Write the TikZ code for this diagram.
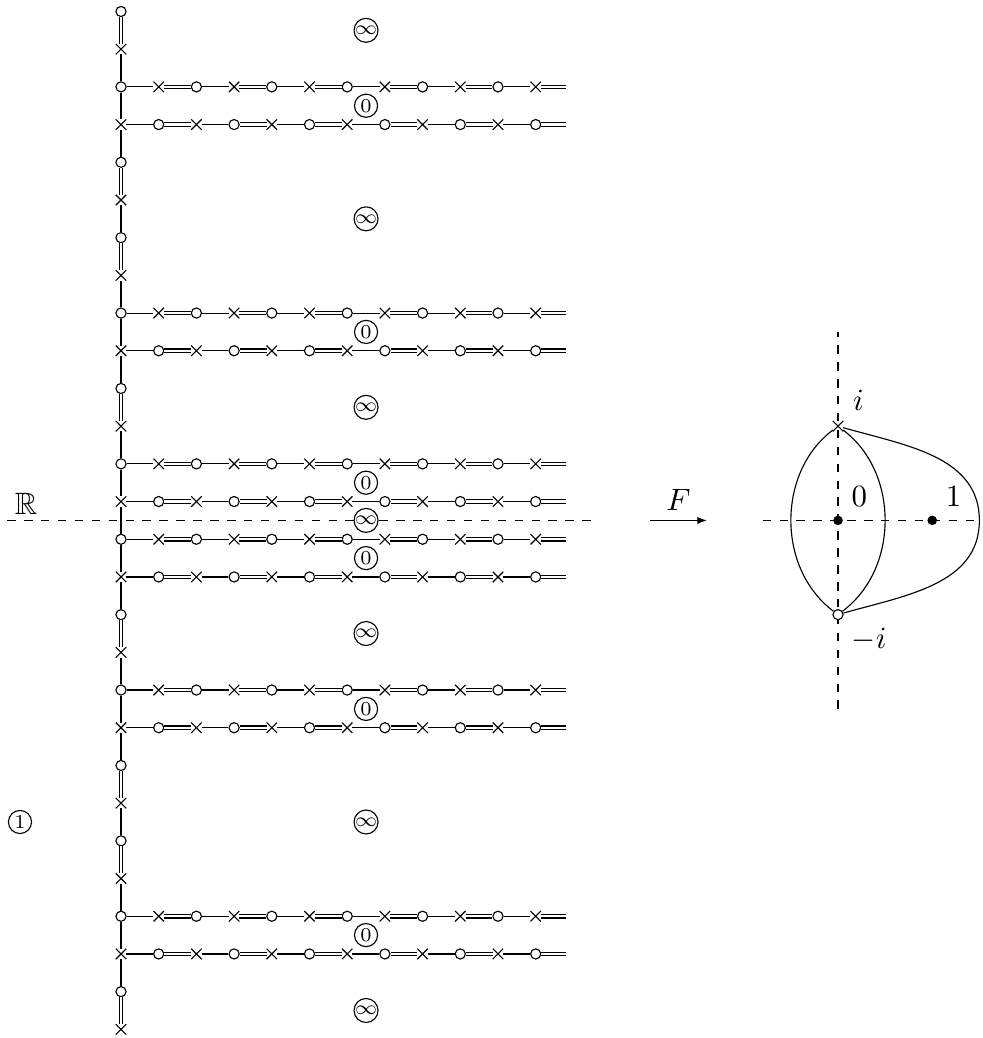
\documentclass[tikz,border=0pt]{standalone}
\usepackage{amssymb}
\usetikzlibrary{arrows.meta,positioning,shapes.misc}

\begin{document}
\begin{tikzpicture}[
    x=0.47cm, y=0.47cm,
    v0/.style={draw, circle, fill=white, inner sep=0pt, minimum size=3.6pt, line width=0.4pt},
    v1/.style={draw, cross out, inner sep=0pt, minimum size=3.3pt, line width=0.4pt},
    e0/.style={line width=0.4pt},
    e1/.style={line width=0.4pt, double, double distance=0.85pt},
    face/.style={draw, circle, fill=white, inner sep=0pt, minimum size=8.2pt, font=\scriptsize},
    lbl/.style={font=\fontsize{10.95}{13.6}\selectfont},
    guide/.style={dashed, line width=0.4pt},
    bullet/.style={circle, fill, inner sep=0pt, minimum size=3.4pt},
    arr/.style={-{Latex[length=3.4pt, width=2.6pt]}, line width=0.4pt},
]
    \useasboundingbox (-3.21,0.305) rectangle (22.84,-27.23);

    % Real line
    \coordinate (Rw) at (-3.02,-13.5);
    \coordinate (Re) at (12.52,-13.5);
    \draw [guide] (Rw) -- (Re);
    \node [lbl] (reals) at (-2.52,-13.05) {$\mathbb{R}$};

    % Vertical chain
    \foreach \a in {0,...,27} {
        \pgfmathtruncatemacro{\p}{mod(\a,2)}
        \node [v\p] (v\a) at (0,-\a) {};
    }
    \foreach \a [evaluate=\a as \b using int(\a+1)] in {0,4,6,10,16,20,22,26}
        \draw [e1] (v\a) -- (v\b);
    \foreach \a [evaluate=\a as \b using int(\a+1)] in {1,2,3,5,7,8,9,11,12,13,14,15,17,18,19,21,23,24,25}
        \draw [e0] (v\a) -- (v\b);

    % Horizontal rows
    \foreach \r in {2,3,8,9,12,13,14,15,18,19,24,25} {
        \foreach \j in {1,...,11} {
            \pgfmathtruncatemacro{\p}{mod(\r+\j,2)}
            \node [v\p] (h\r-\j) at (\j,-\r) {};
        }
        \coordinate (t\r) at (11.8,-\r);
        \draw [e0] (v\r) -- (h\r-1);
        \foreach \j [remember=\j as \prev (initially 1)] in {2,...,11} {
            \pgfmathtruncatemacro{\q}{mod(\prev,2)}
            \draw [e\q] (h\r-\prev) -- (h\r-\j);
        }
        \draw [e1] (h\r-11) -- (t\r);
    }

    % Faces
    \foreach \y [count=\n] in {0.5,5.5,10.5,13.5,16.5,21.5,26.5}
        \node [face] (inf\n) at (6.5,-\y) {$\infty$};
    \foreach \y [count=\n] in {2.5,8.5,12.5,14.5,18.5,24.5}
        \node [face] (zero\n) at (6.5,-\y) {$0$};
    \node [face] (one) at (-2.68,-21.5) {$1$};

    % Map F
    \coordinate (fa) at (14.03,-13.5);
    \coordinate (fb) at (15.54,-13.5);
    \draw [arr] (fa) -- (fb) node [lbl, midway, above] {$F$};

    % Image on the sphere
    \begin{scope}[shift={(8.939cm,-6.345cm)}, x=1.175cm, y=1.175cm]
        \coordinate (ha) at (-0.8,0);
        \coordinate (hb) at (1.5,0);
        \coordinate (va) at (0,-2);
        \coordinate (vb) at (0,2);
        \draw [guide] (ha) -- (hb);
        \draw [guide] (va) -- (vb);
        \node [v1, fill=white] (pi) at (0,1) {};
        \node [v0] (mi) at (0,-1) {};
        \node [bullet] (p0) at (0,0) {};
        \node [bullet] (p1) at (1,0) {};
        \coordinate (lw) at (-0.5,0);
        \coordinate (le) at (0.5,0);
        \coordinate (tip) at (1.5,0);
        \draw (pi) to [out=-143, in=90, looseness=0.9] (lw) to [out=-90, in=143, looseness=0.9] (mi);
        \draw (pi) to [out=-37, in=90, looseness=0.9] (le) to [out=-90, in=37, looseness=0.9] (mi);
        \draw (pi) to [out=-16, in=90] (tip) to [out=-90, in=16] (mi);
        \node [lbl, above right=0pt of pi] (li) {$i$};
        \node [lbl, above right=0pt of p0] (l0) {$0$};
        \node [lbl, above right=0pt of p1] (l1) {$1$};
        \node [lbl, below right=0pt of mi] (lmi) {$-i$};
    \end{scope}
\end{tikzpicture}
\end{document}
